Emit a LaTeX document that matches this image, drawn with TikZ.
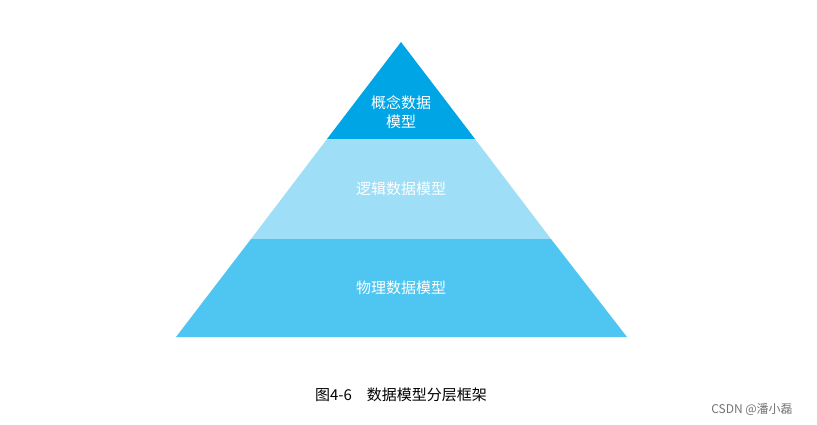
\documentclass[tikz,border=0pt]{standalone}
\usepackage{fontspec}
\newfontfamily\cjk{Noto Sans CJK SC}
\definecolor{topc}{HTML}{00A5E6}
\definecolor{midc}{HTML}{9EDEF6}
\definecolor{botc}{HTML}{4EC6F1}
\begin{document}
\begin{tikzpicture}[x=1pt,y=-1pt,
  lbl/.style={text=white,font=\cjk\fontsize{15}{19}\selectfont,align=center}]
\useasboundingbox (0,0) rectangle (817,424);
\fill[white] (0,0) rectangle (817,424);
\coordinate (A) at (401,42);
\coordinate (B1) at (327,139); \coordinate (B2) at (475,139);
\coordinate (C1) at (251,239); \coordinate (C2) at (551,239);
\coordinate (D1) at (176,337); \coordinate (D2) at (627,337);
\fill[topc] (A) -- (B2) -- (B1) -- cycle;
\fill[midc] (B1) -- (B2) -- (C2) -- (C1) -- cycle;
\fill[botc] (C1) -- (C2) -- (D2) -- (D1) -- cycle;
\node[lbl] (t1) at (401,112) {概念数据\\模型};
\node[lbl] (t2) at (401,189) {逻辑数据模型};
\node[lbl] (t3) at (401,288) {物理数据模型};
\node[font=\cjk\fontsize{15}{18}\selectfont] (cap) at (401,395) {图4-6\quad 数据模型分层框架};
\node[font=\cjk\fontsize{12}{14}\selectfont,text=black!55] (wm) at (752,409) {CSDN @潘小磊};
\end{tikzpicture}
\end{document}
